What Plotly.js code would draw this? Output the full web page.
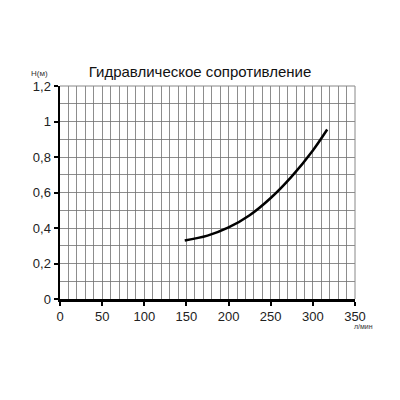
<!DOCTYPE html>
<html><head><meta charset="utf-8">
<script src="https://cdn.plot.ly/plotly-3.0.1.min.js"></script>
<style>html,body{margin:0;padding:0;background:#fff}#chart{width:400px;height:400px}</style>
</head><body><div id="chart"></div>
<script>
const flow = [148, 175, 200, 225, 250, 275, 300, 317];
const head = [0.330, 0.357, 0.403, 0.472, 0.569, 0.691, 0.837, 0.955];
const chartTitle = 'Гидравлическое сопротивление';
const yLabel = 'Н(м)';
const xLabel = 'л/мин';

const font = 'Liberation Sans, Arial, sans-serif';
const trace = {
  x: flow, y: head, type: 'scatter', mode: 'lines',
  line: {color: '#000', width: 2.5, shape: 'spline', smoothing: 1}, hoverinfo: 'none'
};
const grid = '#707070';
const layout = {
  width: 400, height: 400,
  margin: {l: 60, r: 45, t: 86, b: 101},
  paper_bgcolor: '#fff', plot_bgcolor: '#fff',
  separators: ', ',
  showlegend: false,
  font: {family: font, color: '#222', size: 13},
  title: {text: chartTitle, x: 0.5, xanchor: 'center', y: 0.82, yanchor: 'middle',
          font: {family: font, size: 15, color: '#111'}},
  xaxis: {
    range: [0, 350], dtick: 50, tick0: 0, showgrid: true, gridcolor: grid, gridwidth: 0.8,
    minor: {dtick: 10, showgrid: true, gridcolor: grid, gridwidth: 0.8, ticks: ''},
    showline: true, linecolor: '#000', linewidth: 2.5,
    ticks: 'outside', ticklen: 4, tickwidth: 2, tickcolor: '#000',
    zeroline: false, fixedrange: true, tickfont: {size: 13, color: '#222'}
  },
  yaxis: {
    range: [0, 1.2], dtick: 0.2, tick0: 0, showgrid: true, gridcolor: grid, gridwidth: 0.8,
    minor: {dtick: 0.1, showgrid: true, gridcolor: grid, gridwidth: 0.8, ticks: ''},
    showline: true, linecolor: '#000', linewidth: 2.5,
    ticks: 'outside', ticklen: 4, tickwidth: 2, tickcolor: '#000',
    zeroline: false, fixedrange: true, tickfont: {size: 13, color: '#222'}
  },
  shapes: [
    {type: 'line', xref: 'paper', yref: 'paper', x0: 0, x1: 1, y0: 1, y1: 1, line: {color: '#888', width: 1}},
    {type: 'line', xref: 'paper', yref: 'paper', x0: 1, x1: 1, y0: 0, y1: 1, line: {color: '#888', width: 1}}
  ],
  annotations: [
    {text: yLabel, xref: 'paper', yref: 'paper', x: -0.07, y: 1.06, xanchor: 'center', yanchor: 'middle',
     showarrow: false, font: {family: font, size: 8, color: '#333'}},
    {text: xLabel, xref: 'paper', yref: 'paper', x: 1.03, y: -0.13, xanchor: 'center', yanchor: 'middle',
     showarrow: false, font: {family: font, size: 7, color: '#333'}}
  ]
};
Plotly.newPlot('chart', [trace], layout, {staticPlot: true, displayModeBar: false});
</script></body></html>
